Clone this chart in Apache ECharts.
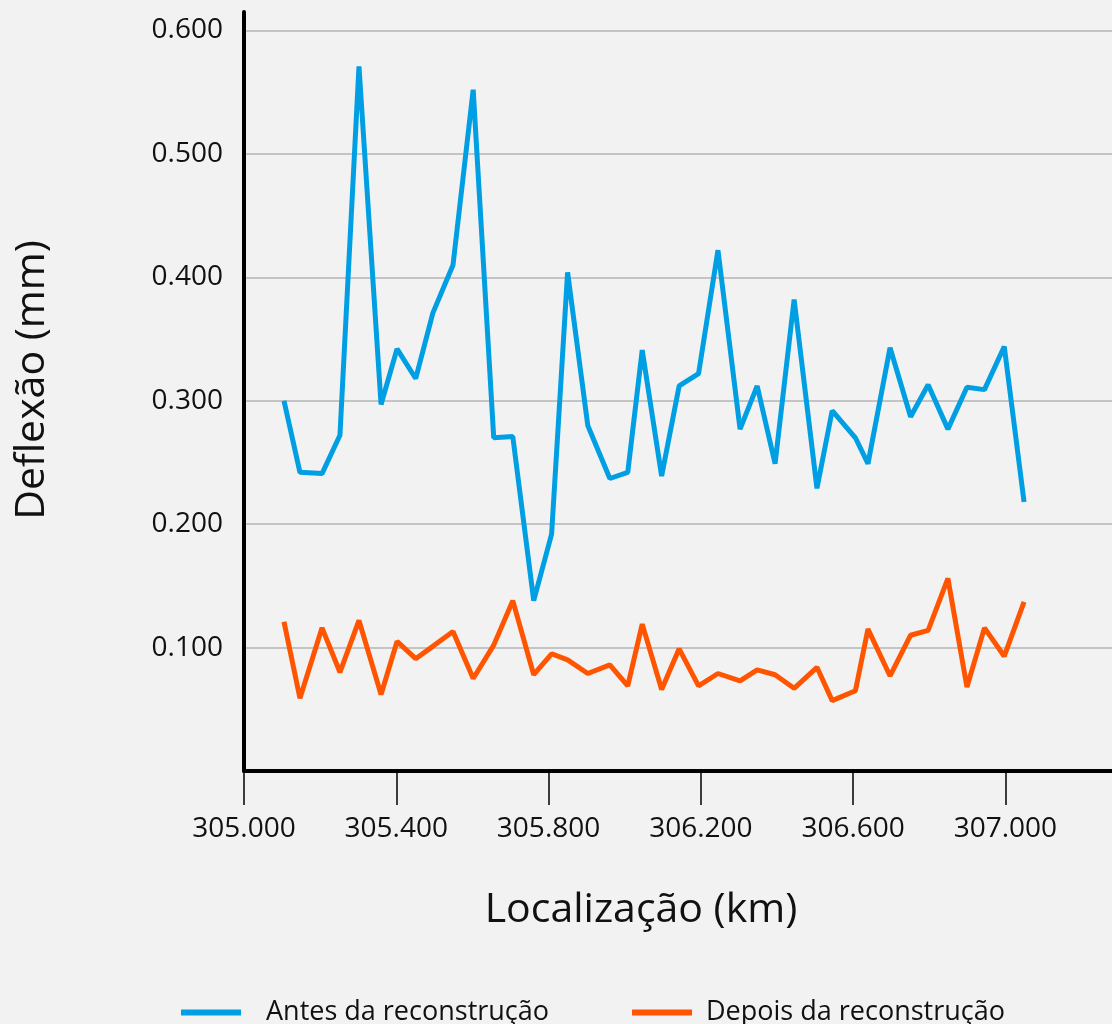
<!DOCTYPE html>
<html>
<head>
<meta charset="utf-8">
<script src="https://cdn.jsdelivr.net/npm/echarts@6/dist/echarts.min.js"></script>
<style>
  html, body { margin: 0; padding: 0; background: #f2f2f2; }
  #chart { width: 1112px; height: 1024px; }
</style>
</head>
<body>
<div id="chart"></div>
<script>
// localização (km) de cada leitura
const locations = [
  305.105, 305.147, 305.205, 305.252, 305.302, 305.360, 305.402, 305.451, 305.496, 305.549,
  305.602, 305.656, 305.706, 305.761, 305.808, 305.850, 305.903, 305.961, 306.008, 306.046,
  306.097, 306.143, 306.194, 306.245, 306.303, 306.348, 306.395, 306.445, 306.505, 306.545,
  306.606, 306.639, 306.697, 306.751, 306.797, 306.849, 306.899, 306.945, 306.997, 307.049
];
// deflexão (mm) antes da reconstrução
const antes = [
  0.300, 0.242, 0.241, 0.272, 0.571, 0.297, 0.342, 0.318, 0.371, 0.410,
  0.552, 0.270, 0.271, 0.138, 0.192, 0.404, 0.280, 0.237, 0.242, 0.341,
  0.239, 0.312, 0.322, 0.422, 0.277, 0.312, 0.249, 0.382, 0.229, 0.292,
  0.270, 0.249, 0.343, 0.287, 0.313, 0.277, 0.311, 0.309, 0.344, 0.218
];
// deflexão (mm) depois da reconstrução
const depois = [
  0.121, 0.059, 0.116, 0.080, 0.122, 0.062, 0.105, 0.091, 0.101, 0.113,
  0.075, 0.102, 0.138, 0.078, 0.095, 0.090, 0.079, 0.086, 0.069, 0.119,
  0.066, 0.099, 0.069, 0.079, 0.073, 0.082, 0.078, 0.067, 0.084, 0.057,
  0.065, 0.115, 0.077, 0.110, 0.114, 0.156, 0.068, 0.116, 0.093, 0.137
];
const xTicks = [305.0, 305.4, 305.8, 306.2, 306.6, 307.0];
const yTicks = [0, 0.1, 0.2, 0.3, 0.4, 0.5, 0.6];

const font = 'Open Sans';

function pairs(ys) {
  return locations.map((x, i) => [x, ys[i]]);
}

let option = {
  backgroundColor: '#f2f2f2',
  animation: false,
  textStyle: { fontFamily: font },
  grid: { left: 244, right: 0, top: 12, bottom: 253 },
  legend: {
    left: 176,
    top: 994,
    itemWidth: 60,
    itemHeight: 6,
    itemGap: 83,
    icon: 'rect',
    textStyle: { fontFamily: font, fontSize: 27, color: '#111' },
    data: [
      { name: 'Antes da reconstrução', textStyle: { padding: [0, 0, 0, 20] } },
      { name: 'Depois da reconstrução', textStyle: { padding: [0, 0, 0, 9] } }
    ]
  },
  xAxis: {
    type: 'value',
    min: 305,
    max: 307.28,
    axisLine: { show: true, lineStyle: { color: '#000', width: 4 } },
    axisTick: { show: true, length: 34, lineStyle: { color: '#000', width: 1.5 }, customValues: xTicks },
    axisLabel: {
      margin: 44, fontSize: 28, color: '#111', fontFamily: font,
      customValues: xTicks,
      formatter: v => v.toFixed(3)
    },
    splitLine: { show: false }
  },
  yAxis: {
    type: 'value',
    min: 0,
    max: 0.615,
    axisLine: { show: true, lineStyle: { color: '#000', width: 4 } },
    axisTick: { show: false, customValues: yTicks },
    axisLabel: {
      margin: 21, fontSize: 28, color: '#111', fontFamily: font,
      customValues: yTicks.slice(1),
      formatter: v => v.toFixed(3)
    },
    splitLine: { show: true, lineStyle: { color: '#c4c4c4', width: 2 } }
  },
  graphic: [
    {
      type: 'text', x: 32, y: 380, rotation: Math.PI / 2,
      style: { text: 'Deflexão (mm)', fontFamily: font, fontSize: 41, fill: '#111',
               align: 'center', verticalAlign: 'middle' }
    },
    {
      type: 'text', x: 641, y: 910,
      style: { text: 'Localização (km)', fontFamily: font, fontSize: 41, fill: '#111',
               align: 'center', verticalAlign: 'middle' }
    }
  ],
  series: [
    {
      name: 'Antes da reconstrução',
      type: 'line',
      showSymbol: false,
      color: '#009fe3',
      lineStyle: { width: 5 },
      data: pairs(antes)
    },
    {
      name: 'Depois da reconstrução',
      type: 'line',
      showSymbol: false,
      color: '#ff5500',
      lineStyle: { width: 5 },
      data: pairs(depois)
    }
  ]
};

let myChart = echarts.init(document.getElementById('chart'));
myChart.setOption(option);

window.addEventListener('resize', function () {
  myChart.resize();
}, false);
</script>
</body>
</html>
